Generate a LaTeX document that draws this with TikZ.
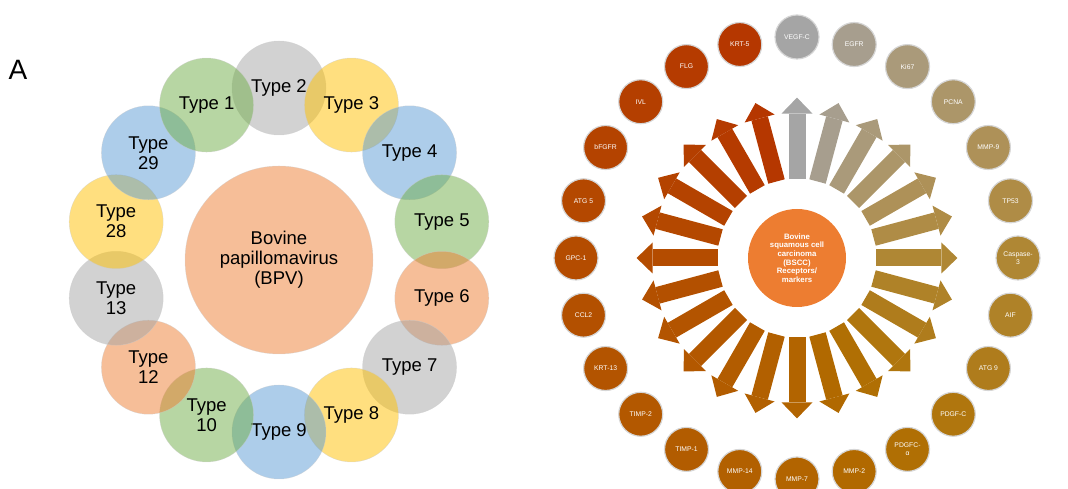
\documentclass[tikz,border=0pt]{standalone}
\usepackage{fontspec}
\setmainfont{Liberation Sans}
\usetikzlibrary{arrows.meta}
\definecolor{bpvgrey}{HTML}{A5A5A5}
\definecolor{bpvyellow}{HTML}{FFC000}
\definecolor{bpvblue}{HTML}{5B9BD5}
\definecolor{bpvgreen}{HTML}{70AD47}
\definecolor{bpvorange}{HTML}{ED7D31}
% marker colours, clockwise from the top
\definecolor{mk0}{RGB}{165,165,165}
\definecolor{mk1}{RGB}{167,158,142}
\definecolor{mk2}{RGB}{170,154,122}
\definecolor{mk3}{RGB}{172,150,105}
\definecolor{mk4}{RGB}{174,145,88}
\definecolor{mk5}{RGB}{175,140,70}
\definecolor{mk6}{RGB}{175,135,52}
\definecolor{mk7}{RGB}{175,130,40}
\definecolor{mk8}{RGB}{175,124,28}
\definecolor{mk9}{RGB}{176,118,14}
\definecolor{mk10}{RGB}{176,111,4}
\definecolor{mk11}{RGB}{177,105,0}
\definecolor{mk12}{RGB}{178,100,0}
\definecolor{mk13}{RGB}{178,96,0}
\definecolor{mk14}{RGB}{178,92,0}
\definecolor{mk15}{RGB}{179,88,0}
\definecolor{mk16}{RGB}{179,84,0}
\definecolor{mk17}{RGB}{179,80,0}
\definecolor{mk18}{RGB}{180,76,0}
\definecolor{mk19}{RGB}{180,72,0}
\definecolor{mk20}{RGB}{180,67,0}
\definecolor{mk21}{RGB}{180,63,0}
\definecolor{mk22}{RGB}{181,59,0}
\definecolor{mk23}{RGB}{181,55,0}
\begin{document}
\begin{tikzpicture}[x=1pt, y=1pt,
    every node/.style={font=\fontsize{18.5}{20}\selectfont, align=center},
    typecirc/.style={circle, minimum size=94pt, inner sep=0pt, fill opacity=0.5, text opacity=1,
      draw=white!80!black, draw opacity=0.5, line width=0.5pt},
    markcirc/.style={circle, minimum size=44pt, inner sep=0pt, draw=white!84!black, line width=1.2pt,
      text=white, font=\fontsize{6.8}{7.6}\selectfont},
    bararrow/.style={line width=17pt, -{Triangle[width=31pt, length=16pt, line width=0pt]},
      shorten <=30pt, shorten >=38pt}]
  \useasboundingbox (0,0) rectangle (1068,489);
  \clip (0,0) rectangle (1068,489);
  \node[font=\fontsize{28}{30}\selectfont] (panA) at (18,419) {A};

  % left: BPV types
  \begin{scope}[shift={(279,229)}]
    \node[typecirc, fill=bpvorange, minimum size=188pt] (bpv) at (0,0) {Bovine\\papillomavirus\\(BPV)};
    \node[typecirc, fill=bpvgrey]   (t2)  at (90:167 and 172)      {Type 2};
    \node[typecirc, fill=bpvyellow] (t3)  at (64.29:167 and 172)   {Type 3};
    \node[typecirc, fill=bpvblue]   (t4)  at (38.57:167 and 172)   {Type 4};
    \node[typecirc, fill=bpvgreen]  (t5)  at (12.86:167 and 172)   {Type 5};
    \node[typecirc, fill=bpvorange] (t6)  at (-12.86:167 and 172)  {Type 6};
    \node[typecirc, fill=bpvgrey]   (t7)  at (-38.57:167 and 172)  {Type 7};
    \node[typecirc, fill=bpvyellow] (t8)  at (-64.29:167 and 172)  {Type 8};
    \node[typecirc, fill=bpvblue]   (t9)  at (-90:167 and 172)     {Type 9};
    \node[typecirc, fill=bpvgreen]  (t10) at (-115.71:167 and 172) {Type\\10};
    \node[typecirc, fill=bpvorange] (t12) at (-141.43:167 and 172) {Type\\12};
    \node[typecirc, fill=bpvgrey]   (t13) at (-167.14:167 and 172) {Type\\13};
    \node[typecirc, fill=bpvyellow] (t28) at (167.14:167 and 172)  {Type\\28};
    \node[typecirc, fill=bpvblue]   (t29) at (141.43:167 and 172)  {Type\\29};
    \node[typecirc, fill=bpvgreen]  (t1)  at (115.71:167 and 172)  {Type 1};
  \end{scope}

  % right: BSCC receptors and markers
  \begin{scope}[shift={(797,231)}]
    \node[circle, fill=bpvorange, minimum size=98pt, inner sep=0pt, text=white,
      font=\bfseries\fontsize{7.8}{8.7}\selectfont] (hub) at (0,0)
      {Bovine\\squamous cell\\carcinoma\\(BSCC)\\Receptors/\\markers};
    \node[markcirc, fill=mk0]  (m0)  at (90:221)  {VEGF-C};
    \node[markcirc, fill=mk1]  (m1)  at (75:221)  {EGFR};
    \node[markcirc, fill=mk2]  (m2)  at (60:221)  {Ki67};
    \node[markcirc, fill=mk3]  (m3)  at (45:221)  {PCNA};
    \node[markcirc, fill=mk4]  (m4)  at (30:221)  {MMP-9};
    \node[markcirc, fill=mk5]  (m5)  at (15:221)  {TP53};
    \node[markcirc, fill=mk6]  (m6)  at (0:221)   {Caspase-\\3};
    \node[markcirc, fill=mk7]  (m7)  at (-15:221) {AIF};
    \node[markcirc, fill=mk8]  (m8)  at (-30:221) {ATG 9};
    \node[markcirc, fill=mk9]  (m9)  at (-45:221) {PDGF-C};
    \node[markcirc, fill=mk10] (m10) at (-60:221) {PDGFC-\\α};
    \node[markcirc, fill=mk11] (m11) at (-75:221) {MMP-2};
    \node[markcirc, fill=mk12] (m12) at (-90:221) {MMP-7};
    \node[markcirc, fill=mk13] (m13) at (-105:221) {MMP-14};
    \node[markcirc, fill=mk14] (m14) at (-120:221) {TIMP-1};
    \node[markcirc, fill=mk15] (m15) at (-135:221) {TIMP-2};
    \node[markcirc, fill=mk16] (m16) at (-150:221) {KRT-13};
    \node[markcirc, fill=mk17] (m17) at (-165:221) {CCL2};
    \node[markcirc, fill=mk18] (m18) at (180:221) {GPC-1};
    \node[markcirc, fill=mk19] (m19) at (165:221) {ATG 5};
    \node[markcirc, fill=mk20] (m20) at (150:221) {bFGFR};
    \node[markcirc, fill=mk21] (m21) at (135:221) {IVL};
    \node[markcirc, fill=mk22] (m22) at (120:221) {FLG};
    \node[markcirc, fill=mk23] (m23) at (105:221) {KRT-5};
    \draw[bararrow, mk0]  (hub) -- (m0);
    \draw[bararrow, mk1]  (hub) -- (m1);
    \draw[bararrow, mk2]  (hub) -- (m2);
    \draw[bararrow, mk3]  (hub) -- (m3);
    \draw[bararrow, mk4]  (hub) -- (m4);
    \draw[bararrow, mk5]  (hub) -- (m5);
    \draw[bararrow, mk6]  (hub) -- (m6);
    \draw[bararrow, mk7]  (hub) -- (m7);
    \draw[bararrow, mk8]  (hub) -- (m8);
    \draw[bararrow, mk9]  (hub) -- (m9);
    \draw[bararrow, mk10] (hub) -- (m10);
    \draw[bararrow, mk11] (hub) -- (m11);
    \draw[bararrow, mk12] (hub) -- (m12);
    \draw[bararrow, mk13] (hub) -- (m13);
    \draw[bararrow, mk14] (hub) -- (m14);
    \draw[bararrow, mk15] (hub) -- (m15);
    \draw[bararrow, mk16] (hub) -- (m16);
    \draw[bararrow, mk17] (hub) -- (m17);
    \draw[bararrow, mk18] (hub) -- (m18);
    \draw[bararrow, mk19] (hub) -- (m19);
    \draw[bararrow, mk20] (hub) -- (m20);
    \draw[bararrow, mk21] (hub) -- (m21);
    \draw[bararrow, mk22] (hub) -- (m22);
    \draw[bararrow, mk23] (hub) -- (m23);
  \end{scope}
\end{tikzpicture}
\end{document}
